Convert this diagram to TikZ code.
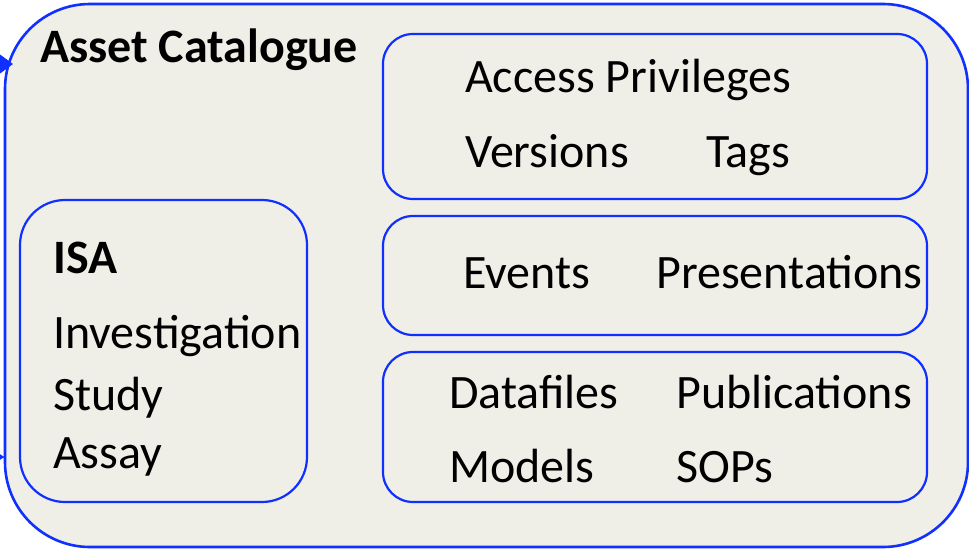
\documentclass[tikz,border=0pt]{standalone}
\usepackage{fontspec}
\setmainfont{Carlito}
\usetikzlibrary{arrows.meta}
\definecolor{panelfill}{RGB}{239,238,231}
\definecolor{edgeblue}{RGB}{16,48,255}
\tikzset{
  panel/.style={draw=edgeblue, fill=panelfill, line width=2.2pt, inner sep=0pt},
  label/.style={anchor=base west, inner sep=0pt, font=\fontsize{48}{56}\selectfont},
  heading/.style={anchor=base west, inner sep=0pt, font=\fontsize{48}{56}\selectfont\bfseries},
  feed/.style={draw=edgeblue, line width=3pt},
  feedtip/.style={fill=edgeblue},
  thinfeed/.style={draw=edgeblue, line width=1pt, -{Latex[length=5pt,width=6pt]}}
}
\begin{document}
\begin{tikzpicture}[x=1pt,y=-1pt]
\useasboundingbox (0,0) rectangle (969,549);
\fill[white] (0,0) rectangle (969,549);

% outer catalogue panel
\node[panel, line width=2.6pt, rounded corners=85pt, minimum width=963pt, minimum height=543pt] (catalogue) at (486.5,275.5) {};

% incoming connectors from the left
\coordinate (srcA) at (-80,64);
\coordinate (hitA) at (13,64);
\coordinate (srcB) at (-30,457);
\coordinate (hitB) at (5,457);
\draw[feed] (srcA) -- ([xshift=-10pt]hitA);
\fill[feedtip] (hitA) -- ++(-15,-11) -- ++(0,22) -- cycle;
\draw[thinfeed] (srcB) -- (hitB);

% inner panels
\node[panel, rounded corners=30pt, minimum width=544pt, minimum height=165pt] (meta) at (655,116.5) {};
\node[panel, rounded corners=30pt, minimum width=544pt, minimum height=119pt] (media) at (655,275.5) {};
\node[panel, rounded corners=30pt, minimum width=544pt, minimum height=150pt] (assets) at (655,427) {};
\node[panel, rounded corners=45pt, minimum width=287pt, minimum height=302pt] (isa) at (163.5,351) {};

% titles
\node[heading] (title) at (40,62) {Asset Catalogue};
\node[heading] (isatitle) at (53,273) {ISA};

% metadata panel
\node[label] (access) at (465,92) {Access Privileges};
\node[label] (versions) at (465,167) {Versions};
\node[label] (tags) at (706,167) {Tags};

% events panel
\node[label] (events) at (463,288) {Events};
\node[label] (present) at (656,288) {Presentations};

% asset panel
\node[label] (datafiles) at (449,408) {Datafiles};
\node[label] (pubs) at (676,408) {Publications};
\node[label] (models) at (449,482) {Models};
\node[label] (sops) at (676,482) {SOPs};

% ISA panel
\node[label] (invest) at (53,348) {Investigation};
\node[label] (study) at (53,410) {Study};
\node[label] (assay) at (53,468) {Assay};
\end{tikzpicture}
\end{document}
